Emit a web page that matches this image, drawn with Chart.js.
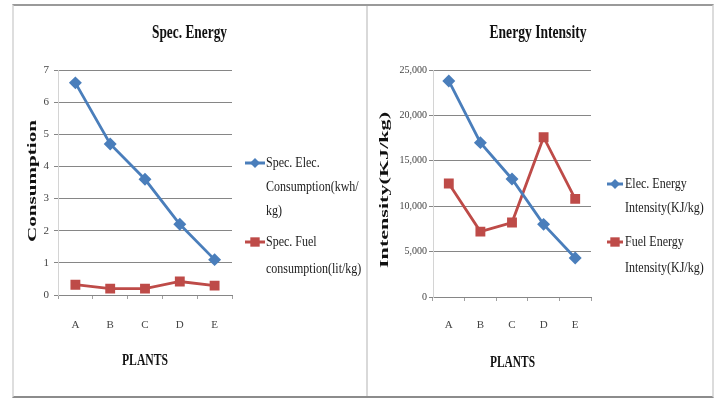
<!DOCTYPE html>
<html>
<head>
<meta charset="utf-8">
<script src="https://cdn.jsdelivr.net/npm/chart.js@4.4.0/dist/chart.umd.min.js"></script>
<style>
  html, body { margin: 0; padding: 0; background: #fff; }
  body { width: 714px; height: 398px; position: relative; overflow: hidden; }
  #frame { position: absolute; left: 12px; top: 4px; width: 698px; height: 390px;
           border-top: 2px solid #9a9a9a; border-bottom: 2px solid #8c8c8c;
           border-left: 2px solid #dedede; border-right: 2px solid #dcdcdc; }
  #divider { position: absolute; left: 366px; top: 6px; width: 2px; height: 390px; background: #d9d9d9; }
  canvas { position: absolute; top: 6px; }
  #specChart { left: 14px; }
  #intensityChart { left: 369px; }
</style>
</head>
<body>
<div id="frame"></div>
<div id="divider"></div>
<canvas id="specChart" width="352" height="390"></canvas>
<canvas id="intensityChart" width="342" height="390"></canvas>
<script>
// Plants on the x axis
const plants = ['A', 'B', 'C', 'D', 'E'];

// Specific consumption per plant
const specElec = [6.6, 4.7, 3.6, 2.2, 1.1];      // kwh/kg
const specFuel = [0.32, 0.2, 0.2, 0.42, 0.29];   // lit/kg

// Energy intensity per plant (KJ/kg)
const elecIntensity = [23800, 17000, 13000, 8000, 4300];
const fuelIntensity = [12500, 7200, 8200, 17600, 10800];

// Legend text, one entry per line
const specElecLegend = ['Spec. Elec.', 'Consumption(kwh/', 'kg)'];
const specFuelLegend = ['Spec. Fuel', 'consumption(lit/kg)'];
const elecIntLegend = ['Elec. Energy', 'Intensity(KJ/kg)'];
const fuelIntLegend = ['Fuel Energy', 'Intensity(KJ/kg)'];

const BLUE = '#4a7ebb';
const RED = '#be4b48';
const SERIF = '"Liberation Serif", "Times New Roman", serif';

// Draw text squeezed or stretched along its baseline
function drawFitted(ctx, text, x, y, o) {
  ctx.save();
  ctx.font = o.font;
  ctx.fillStyle = o.color || '#111';
  ctx.textBaseline = 'middle';
  ctx.textAlign = o.align || 'center';
  const w = ctx.measureText(text).width;
  const sx = o.width ? o.width / w : (o.scaleX || 1);
  ctx.translate(x, y);
  if (o.rotate) ctx.rotate(o.rotate);
  ctx.scale(sx, 1);
  ctx.fillText(text, 0, 0);
  ctx.restore();
}

function drawMarker(ctx, style, x, y, r, color) {
  ctx.save();
  ctx.fillStyle = color;
  ctx.beginPath();
  if (style === 'rectRot') {
    ctx.moveTo(x, y - r); ctx.lineTo(x + r, y); ctx.lineTo(x, y + r); ctx.lineTo(x - r, y);
  } else {
    ctx.rect(x - r * 0.85, y - r * 0.85, r * 1.7, r * 1.7);
  }
  ctx.closePath();
  ctx.fill();
  ctx.restore();
}

// Titles, axis titles and the side legend for one panel
function panelText(cfg) {
  return {
    id: 'panelText',
    afterDraw(chart) {
      const ctx = chart.ctx;
      const t = cfg.title;
      drawFitted(ctx, t.text, t.x, t.y, { font: 'bold 18px ' + SERIF, width: t.width });
      const xt = cfg.xTitle;
      drawFitted(ctx, xt.text, xt.x, xt.y, { font: 'bold 16px ' + SERIF, width: xt.width });
      const yt = cfg.yTitle;
      drawFitted(ctx, yt.text, yt.x, yt.y, { font: 'bold 13px ' + SERIF, width: yt.width, rotate: -Math.PI / 2 });

      const lg = cfg.legend;
      chart.data.datasets.forEach((ds, i) => {
        const item = lg.items[i];
        ctx.save();
        ctx.strokeStyle = ds.borderColor;
        ctx.lineWidth = 3;
        ctx.beginPath();
        ctx.moveTo(lg.x1, item.y);
        ctx.lineTo(lg.x2, item.y);
        ctx.stroke();
        ctx.restore();
        drawMarker(ctx, ds.pointStyle, (lg.x1 + lg.x2) / 2, item.y, ds.pointStyle === 'rect' ? 5.5 : 5, ds.borderColor);
        item.lines.forEach((line, k) => {
          drawFitted(ctx, line, lg.textX, item.lineY[k], { font: '15px ' + SERIF, scaleX: 0.8, align: 'left', color: '#1a1a1a' });
        });
      });
    }
  };
}

function lineSet(label, data, color, style, radius) {
  return {
    label, data,
    borderColor: color, backgroundColor: color,
    borderWidth: 2.8, tension: 0,
    pointStyle: style, pointRadius: radius,
    pointBorderColor: color, pointBackgroundColor: color
  };
}

function makeOptions(c) {
  const tickFont = { family: SERIF, size: c.tickSize };
  return {
    responsive: false,
    animation: false,
    layout: { padding: { top: c.top, right: c.padRight, bottom: 0, left: 0 } },
    plugins: { legend: { display: false }, title: { display: false }, tooltip: { enabled: false } },
    scales: {
      x: {
        type: 'category',
        offset: true,
        grid: { offset: true, drawOnChartArea: false, drawTicks: true, tickLength: 4, color: '#a0a0a0' },
        border: { display: true, color: '#868686' },
        ticks: { padding: c.xPad, color: '#444', font: { family: SERIF, size: 11 }, maxRotation: 0, autoSkip: false },
        afterFit(s) { s.height = c.xHeight; }
      },
      y: {
        min: 0, max: c.max,
        grid: { color: '#868686', lineWidth: 1, tickLength: 4 },
        border: { display: true, color: '#d4d4d4' },
        ticks: { stepSize: c.step, padding: c.yPad, color: '#444', font: tickFont },
        afterFit(s) { s.width = c.yWidth; }
      }
    }
  };
}

new Chart(document.getElementById('specChart'), {
  type: 'line',
  data: {
    labels: plants,
    datasets: [
      lineSet(specElecLegend.join(' '), specElec, BLUE, 'rectRot', 4.5),
      lineSet(specFuelLegend.join(' '), specFuel, RED, 'rect', 5)
    ]
  },
  options: makeOptions({ top: 64, padRight: 134, xHeight: 101, yWidth: 44, xPad: 20, yPad: 5, max: 7, step: 1, tickSize: 11 }),
  plugins: [panelText({
    title: { text: 'Spec. Energy', x: 175.5, y: 27, width: 75 },
    xTitle: { text: 'PLANTS', x: 131, y: 355, width: 46 },
    yTitle: { text: 'Consumption', x: 19, y: 175, width: 122 },
    legend: {
      x1: 231, x2: 251, textX: 252,
      items: [
        { y: 157, lines: specElecLegend, lineY: [157, 181, 205] },
        { y: 236, lines: specFuelLegend, lineY: [236, 263] }
      ]
    }
  })]
});

new Chart(document.getElementById('intensityChart'), {
  type: 'line',
  data: {
    labels: plants,
    datasets: [
      lineSet(elecIntLegend.join(' '), elecIntensity, BLUE, 'rectRot', 4.5),
      lineSet(fuelIntLegend.join(' '), fuelIntensity, RED, 'rect', 5)
    ]
  },
  options: makeOptions({ top: 64, padRight: 120, xHeight: 99, yWidth: 64, xPad: 18, yPad: 2, max: 25000, step: 5000, tickSize: 10 }),
  plugins: [panelText({
    title: { text: 'Energy Intensity', x: 169, y: 27, width: 97 },
    xTitle: { text: 'PLANTS', x: 143.5, y: 357, width: 45 },
    yTitle: { text: 'Intensity(KJ/kg)', x: 16, y: 184, width: 156 },
    legend: {
      x1: 238, x2: 254, textX: 256,
      items: [
        { y: 178, lines: elecIntLegend, lineY: [178, 202] },
        { y: 236, lines: fuelIntLegend, lineY: [236, 262] }
      ]
    }
  })]
});
</script>
</body>
</html>
